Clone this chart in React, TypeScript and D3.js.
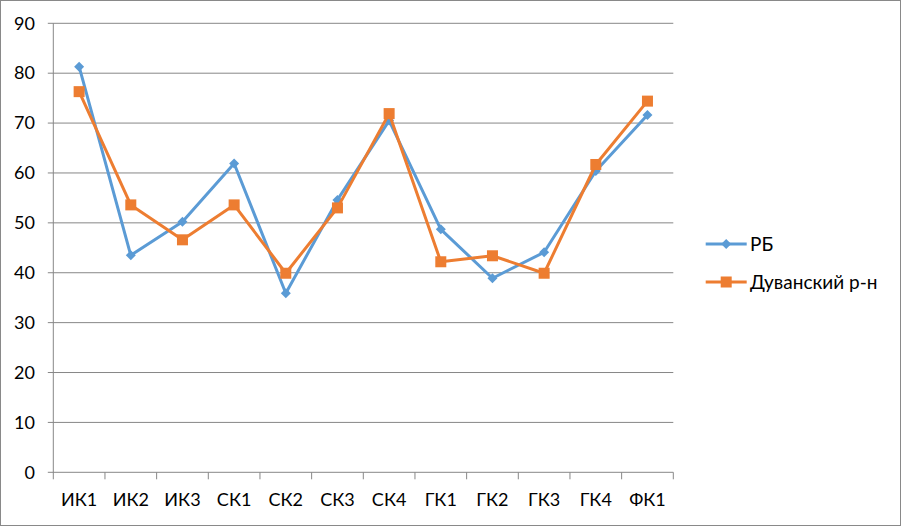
import React from "react";
import * as d3 from "d3";

const categories = ["ИК1", "ИК2", "ИК3", "СК1", "СК2", "СК3", "СК4", "ГК1", "ГК2", "ГК3", "ГК4", "ФК1"];
const rbValues = [81.3, 43.5, 50.2, 61.9, 35.9, 54.6, 70.5, 48.7, 38.9, 44.1, 60.4, 71.6];
const duvValues = [76.3, 53.6, 46.6, 53.6, 39.9, 53.0, 71.9, 42.2, 43.4, 39.9, 61.7, 74.4];
const yTicks = [0, 10, 20, 30, 40, 50, 60, 70, 80, 90];
const seriesNames = ["РБ", "Дуванский р-н"];

const W = 901, H = 526;
const left = 53.3, right = 673.3, top = 23.3, bottom = 472.3;
const font = "Lato, 'Open Sans', sans-serif";
const blue = "#5B9BD5", orange = "#ED7D31", grid = "#878787";

export default function App() {
  const x = d3.scaleBand<string>().domain(categories).range([left, right]);
  const y = d3.scaleLinear().domain([0, 90]).range([bottom, top]);
  const cx = (c: string) => (x(c) as number) + x.bandwidth() / 2;
  const line = d3.line<number>().x((_, i) => cx(categories[i])).y((d) => y(d));
  const diamond = (px: number, py: number, r: number) => `M${px},${py - r}L${px + r},${py}L${px},${py + r}L${px - r},${py}Z`;

  return (
    <svg width={W} height={H} style={{ position: "absolute", left: 0, top: 0, display: "block" }}>
      <rect x={0.5} y={0.5} width={W - 1} height={H - 1} fill="#fff" stroke="#898989" />
      {yTicks.map((t) => (
        <g key={t}>
          <line x1={left - 5.5} x2={right} y1={y(t)} y2={y(t)} stroke={grid} strokeWidth={1} />
          <text x={35} y={y(t)} dy="0.35em" textAnchor="end" fontFamily={font} fontSize={18} fill="#000">{t}</text>
        </g>
      ))}
      <line x1={left} x2={left} y1={top} y2={bottom + 7} stroke={grid} />
      {categories.map((c, i) => (
        <line key={"t" + i} x1={(x(c) as number) + x.bandwidth()} x2={(x(c) as number) + x.bandwidth()} y1={bottom} y2={bottom + 7} stroke={grid} />
      ))}
      {categories.map((c) => (
        <text key={c} x={cx(c)} y={506} textAnchor="middle" fontFamily={font} fontSize={18} fill="#000">{c}</text>
      ))}
      <path d={line(rbValues) || ""} fill="none" stroke={blue} strokeWidth={3} strokeLinejoin="round" />
      {rbValues.map((v, i) => (
        <path key={"b" + i} d={diamond(cx(categories[i]), y(v), 5)} fill={blue} />
      ))}
      <path d={line(duvValues) || ""} fill="none" stroke={orange} strokeWidth={3} strokeLinejoin="round" />
      {duvValues.map((v, i) => (
        <rect key={"o" + i} x={cx(categories[i]) - 5.5} y={y(v) - 5.5} width={11} height={11} fill={orange} />
      ))}
      <g>
        <line x1={705.7} x2={746.7} y1={244} y2={244} stroke={blue} strokeWidth={3} />
        <path d={diamond(726.2, 244, 5)} fill={blue} />
        <text x={750} y={244} dy="0.35em" fontFamily={font} fontSize={19} fill="#000">{seriesNames[0]}</text>
        <line x1={705.7} x2={746.7} y1={282} y2={282} stroke={orange} strokeWidth={3} />
        <rect x={720.7} y={276.5} width={11} height={11} fill={orange} />
        <text x={750} y={282} dy="0.35em" fontFamily={font} fontSize={19} fill="#000">{seriesNames[1]}</text>
      </g>
    </svg>
  );
}
